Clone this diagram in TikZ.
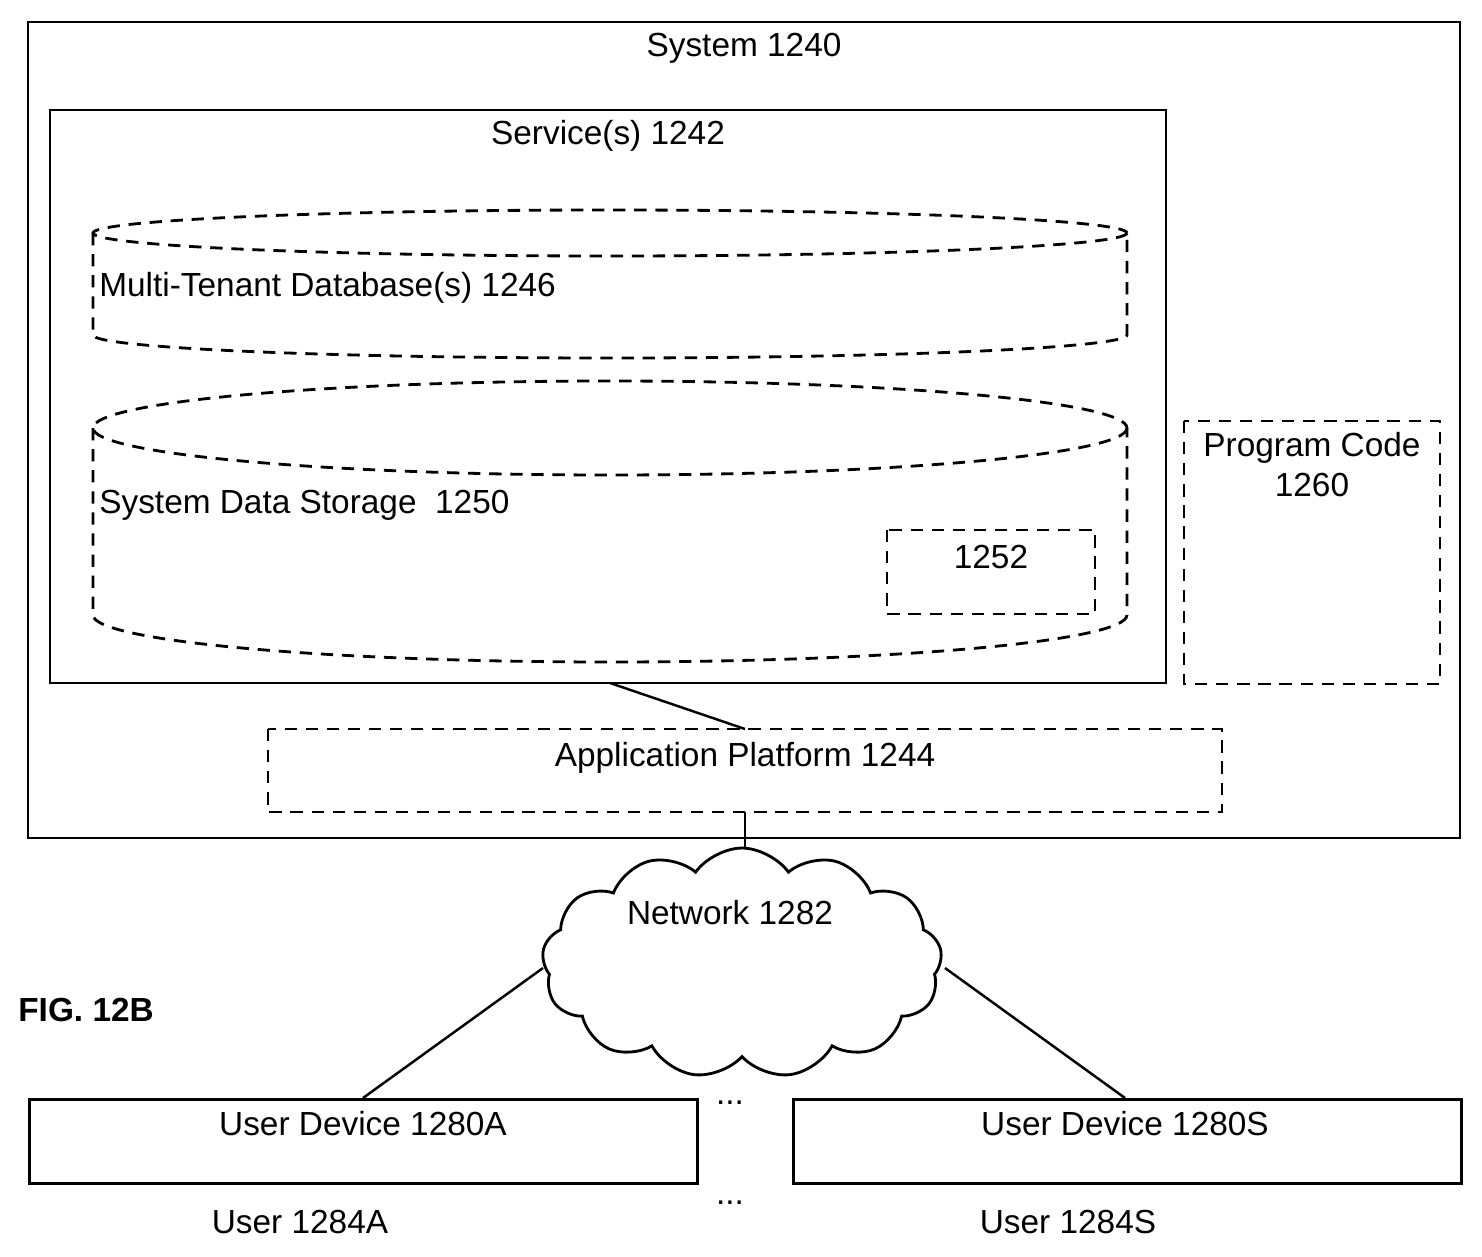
\documentclass[tikz,border=0pt]{standalone}
\usepackage{fontspec}
\setmainfont{Liberation Sans}
\usetikzlibrary{shapes.symbols}
\tikzset{
    box/.style = {draw, line width=1.6pt, minimum width=#1, inner sep=0pt},
    dbox/.style = {draw, line width=1.6pt, dash pattern=on 7pt off 5pt},
    lbl/.style = {font=\fontsize{19}{23}\selectfont, inner sep=0pt},
}
\begin{document}
\begin{tikzpicture}[x=0.02cm, y=-0.02cm]
    \useasboundingbox (0,0) rectangle (1482,1257);
    % outer boxes
    \draw[line width=1.6pt] (28,22) rectangle (1460,838);
    \node[lbl] (sys) at (744,48) {System 1240};
    \draw[line width=1.6pt] (50,110) rectangle (1166,683);
    \node[lbl] (serv) at (608,136) {Service(s) 1242};
    \coordinate (servb) at (610,683);
    % multi-tenant database
    \draw[dbox] (610,233) ellipse [x radius=517, y radius=23];
    \draw[dbox] (93,233) -- (93,335) arc[start angle=180, end angle=0, x radius=517, y radius=23] -- (1127,233);
    \node[lbl, anchor=west] (mtdb) at (99,288) {Multi-Tenant Database(s) 1246};
    % system data storage
    \draw[dbox] (610,428) ellipse [x radius=517, y radius=47];
    \draw[dbox] (93,428) -- (93,615) arc[start angle=180, end angle=0, x radius=517, y radius=47] -- (1127,428);
    \node[lbl, anchor=west] (sds) at (99,505) {System Data Storage~ 1250};
    \draw[dbox] (887,530) rectangle (1095,614);
    \node[lbl] (n1252) at (991,557) {1252};
    % program code
    \draw[dbox] (1184,421) rectangle (1440,684);
    \node[lbl, align=center, anchor=north] (pc) at (1312,432) {Program Code\\1260};
    % application platform
    \draw[dbox] (268,729) rectangle (1222,812);
    \node[lbl] (app) at (745,758) {Application Platform 1244};
    \coordinate (appt) at (745,729);
    \coordinate (appb) at (745,812);
    \draw[line width=1.4pt] (servb) -- (appt);
    % network
    \node[cloud, draw, line width=1.6pt, cloud puffs=13, cloud puff arc=110,
          minimum width=8.0cm, minimum height=4.6cm, inner sep=0pt] (net) at (742,963) {};
    \node[lbl] (netl) at (730,913) {Network 1282};
    \draw[line width=1.4pt] (appb) -- (net.north -| appb);
    \node[font=\bfseries\fontsize{19}{23}\selectfont, anchor=west, inner sep=0pt] (fig) at (18,1010) {FIG. 12B};
    % user devices
    \node[box=13.36cm, minimum height=1.68cm, anchor=north west] (uda) at (28,1098) {};
    \node[lbl] at (363,1124) {User Device 1280A};
    \node[box=13.36cm, minimum height=1.68cm, anchor=north west] (uds) at (792,1098) {};
    \node[lbl] at (1125,1124) {User Device 1280S};
    \draw[line width=1.4pt] (543,968) -- (uda.north -| 363,0);
    \draw[line width=1.4pt] (945,968) -- (uds.north -| 1125,0);
    \node[lbl] at (730,1103) {...};
    \node[lbl] at (730,1203) {...};
    \node[lbl] (usera) at (300,1222) {User 1284A};
    \node[lbl] (users) at (1068,1222) {User 1284S};
\end{tikzpicture}
\end{document}
